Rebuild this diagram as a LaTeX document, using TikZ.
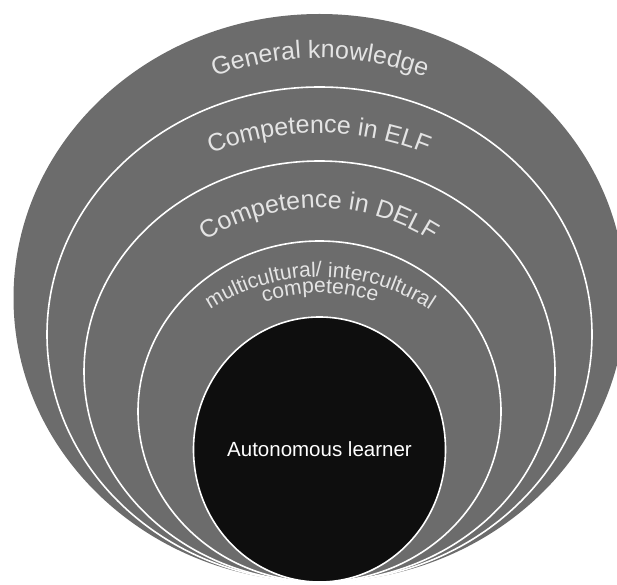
\documentclass[tikz,border=0pt]{standalone}
\usepackage{fontspec}
\setmainfont{Liberation Sans}
\usetikzlibrary{decorations.text}
\definecolor{ringgray}{RGB}{108,108,108}
\definecolor{coreblack}{RGB}{14,14,14}
\definecolor{txtlight}{RGB}{228,228,228}
\newcommand{\lblA}{\fontsize{25}{29}\selectfont\color{txtlight}}
\newcommand{\lblB}{\fontsize{21}{25}\selectfont\color{txtlight}}
\begin{document}
\begin{tikzpicture}[x=1pt,y=1pt,
  ringfill/.style={fill=ringgray},
  ringline/.style={fill=ringgray, draw=white, line width=1.6pt},
  corefill/.style={fill=coreblack, draw=white, line width=1.6pt},
  arclabel/.style={decorate, decoration={text along path, text align=center}}]
\useasboundingbox (0,0) rectangle (617,584);
\clip (0,0) rectangle (617,584);
% rings
\fill[ringfill] (319.5,286) ellipse [x radius=306, y radius=284];
\draw[ringline] (319.5,249.5) ellipse [x radius=272.5, y radius=247.5];
\draw[ringline] (319.5,212.5) ellipse [x radius=235.5, y radius=210.5];
\draw[ringline] (319.5,172.5) ellipse [x radius=181.5, y radius=170.5];
\draw[corefill] (319.5,134.5) ellipse [x radius=126, y radius=132.5];
% curved labels
\coordinate (cGK) at (320,226);
\coordinate (cELF) at (319,165);
\coordinate (cDELF) at (319,166);
\coordinate (cMC) at (320,107);
\coordinate (cCP) at (320,116);
\path[arclabel, decoration={text={|\lblA|General knowledge}}]
  (cGK) ++(130:300) arc[start angle=130, end angle=50, radius=300];
\path[arclabel, decoration={text={|\lblA|Competence in ELF}}]
  (cELF) ++(130:286) arc[start angle=130, end angle=50, radius=286];
\path[arclabel, decoration={text={|\lblA|Competence in DELF}}]
  (cDELF) ++(150:210) arc[start angle=150, end angle=30, radius=210];
\path[arclabel, decoration={text={|\lblB|multicultural/ intercultural}}]
  (cMC) ++(160:200) arc[start angle=160, end angle=20, radius=200];
\path[arclabel, decoration={text={|\lblB|competence}}]
  (cCP) ++(150:175) arc[start angle=150, end angle=30, radius=175];
\node[text=white, font=\fontsize{20.5}{24}\selectfont] (learner) at (319.5,134.5) {Autonomous learner};
\end{tikzpicture}
\end{document}
